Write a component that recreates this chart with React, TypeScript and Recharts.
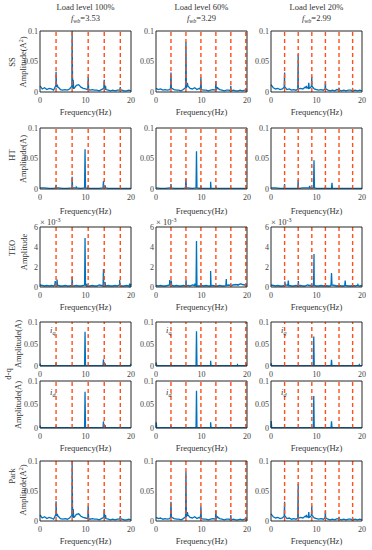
import React from "react";
import { LineChart, Line, XAxis, YAxis, ReferenceLine } from "recharts";

// 字体 / 颜色
const FONT = "'Liberation Serif', 'Times New Roman', serif";
const TXT = "#333333";
const AXIS = "#262626";
const BLUE = "#0072BD";
const ORANGE = "#FF4F1A";

// 每列的谐波位置 (k * fwb)
const harm100 = [3.53, 7.06, 10.59, 14.12, 17.65];
const harm60 = [3.29, 6.58, 9.87, 13.16, 16.45, 19.74];
const harm20 = [2.99, 5.98, 8.97, 11.96, 14.95, 17.94];

const titles = ["Load level 100%", "Load level 60%", "Load level 20%"];
const fwbValues = ["3.53", "3.29", "2.99"];

const xTicks = [0, 10, 20];
const ampTicks = [0, 0.05, 0.1];
const teoTicks = [0, 2, 4, 6];

// SS (also Park) — noise at 0.5 Hz steps, peaks [f, amplitude]
const ssNoise100 = [0.01, 0.005, 0.007, 0.004, 0.006, 0.005, 0.003, 0.01, 0.008, 0.004, 0.003, 0.004, 0.003, 0.005, 0.009, 0.006, 0.011, 0.012, 0.008, 0.006, 0.005, 0.004, 0.003, 0.004, 0.003, 0.003, 0.002, 0.004, 0.006, 0.004, 0.003, 0.002, 0.003, 0.002, 0.003, 0.003, 0.003, 0.002, 0.002, 0.003, 0.002];
const ssPeaks100 = [[3.53, 0.033], [3.8, 0.012], [7.06, 0.1], [7.3, 0.02], [10.59, 0.025], [14.12, 0.02], [14.4, 0.01], [17.65, 0.008]];
const ssNoise60 = [0.006, 0.004, 0.005, 0.003, 0.004, 0.003, 0.004, 0.006, 0.004, 0.003, 0.003, 0.002, 0.004, 0.007, 0.01, 0.006, 0.005, 0.007, 0.004, 0.006, 0.004, 0.003, 0.003, 0.002, 0.003, 0.004, 0.003, 0.006, 0.004, 0.003, 0.002, 0.003, 0.003, 0.002, 0.003, 0.002, 0.002, 0.003, 0.002, 0.003, 0.002];
const ssPeaks60 = [[3.29, 0.032], [6.58, 0.082], [6.9, 0.015], [9.87, 0.024], [13.16, 0.018], [13.5, 0.008], [16.45, 0.01], [19.74, 0.004]];
const ssNoise20 = [0.012, 0.007, 0.005, 0.006, 0.004, 0.005, 0.008, 0.004, 0.005, 0.003, 0.004, 0.003, 0.005, 0.006, 0.005, 0.008, 0.007, 0.006, 0.009, 0.005, 0.004, 0.003, 0.004, 0.003, 0.005, 0.003, 0.002, 0.003, 0.002, 0.004, 0.003, 0.002, 0.003, 0.002, 0.003, 0.003, 0.002, 0.003, 0.002, 0.003, 0.002];
const ssPeaks20 = [[2.99, 0.032], [5.98, 0.062], [7.8, 0.01], [8.3, 0.015], [8.97, 0.025], [11.96, 0.017], [14.95, 0.007], [17.94, 0.004]];

// HT — noise at 1 Hz steps
const htNoise100 = [0.002, 0.002, 0.001, 0.001, 0.002, 0.001, 0.001, 0.002, 0.002, 0.001, 0.002, 0.001, 0.001, 0.001, 0.002, 0.001, 0.001, 0.001, 0.001, 0.001, 0.001];
const htPeaks100 = [[3.53, 0.007], [7.06, 0.02], [8.0, 0.003], [9.9, 0.065], [10.59, 0.005], [13.95, 0.013], [14.3, 0.006]];
const htNoise60 = [0.002, 0.001, 0.001, 0.002, 0.001, 0.001, 0.001, 0.002, 0.001, 0.002, 0.001, 0.001, 0.001, 0.001, 0.001, 0.001, 0.001, 0.001, 0.001, 0.001, 0.001];
const htPeaks60 = [[3.29, 0.008], [6.58, 0.017], [8.9, 0.062], [9.87, 0.005], [12.0, 0.012], [13.16, 0.004], [16.45, 0.002]];
const htNoise20 = [0.002, 0.002, 0.001, 0.001, 0.001, 0.001, 0.001, 0.002, 0.002, 0.002, 0.001, 0.001, 0.001, 0.001, 0.001, 0.001, 0.001, 0.001, 0.001, 0.001, 0.001];
const htPeaks20 = [[2.99, 0.008], [5.98, 0.015], [8.5, 0.005], [9.45, 0.047], [11.96, 0.004], [13.4, 0.01]];

// TEO (x10^-3)
const teoNoise100 = [0.2, 0.15, 0.1, 0.15, 0.1, 0.15, 0.1, 0.2, 0.15, 0.1, 0.1, 0.15, 0.1, 0.1, 0.15, 0.1, 0.15, 0.1, 0.1, 0.15, 0.2, 0.1, 0.1, 0.15, 0.1, 0.1, 0.2, 0.15, 0.1, 0.1, 0.15, 0.1, 0.1, 0.15, 0.1, 0.2, 0.1, 0.1, 0.15, 0.1, 0.3];
const teoPeaks100 = [[3.35, 0.6], [3.75, 0.75], [7.06, 1.0], [9.9, 4.9], [10.3, 0.3], [13.95, 1.8], [14.3, 0.5], [17.5, 0.7], [19.7, 0.35]];
const teoNoise60 = [0.15, 0.1, 0.15, 0.1, 0.1, 0.15, 0.2, 0.15, 0.1, 0.15, 0.1, 0.1, 0.15, 0.1, 0.15, 0.1, 0.2, 0.15, 0.1, 0.1, 0.15, 0.1, 0.15, 0.1, 0.1, 0.15, 0.1, 0.1, 0.15, 0.1, 0.1, 0.15, 0.2, 0.15, 0.2, 0.25, 0.2, 0.3, 0.25, 0.2, 0.2];
const teoPeaks60 = [[3.0, 0.7], [3.35, 0.65], [6.6, 0.7], [8.55, 0.35], [8.9, 4.6], [9.87, 0.35], [12.0, 1.6], [15.45, 0.8], [18.0, 0.3], [18.6, 0.3]];
const teoNoise20 = [0.2, 0.15, 0.1, 0.15, 0.1, 0.1, 0.15, 0.2, 0.15, 0.1, 0.1, 0.15, 0.1, 0.15, 0.1, 0.1, 0.2, 0.15, 0.1, 0.15, 0.1, 0.1, 0.15, 0.1, 0.15, 0.1, 0.1, 0.2, 0.15, 0.1, 0.15, 0.1, 0.1, 0.15, 0.1, 0.1, 0.15, 0.1, 0.15, 0.1, 0.15];
const teoPeaks20 = [[3.05, 0.55], [3.8, 0.65], [6.0, 0.6], [8.9, 0.3], [9.45, 3.3], [13.3, 1.4], [16.3, 0.65], [19.1, 0.25]];

// d-q : iq / id
const dqNoise = [0.001, 0.001, 0.001, 0.001, 0.001, 0.001, 0.001, 0.001, 0.001, 0.001, 0.001, 0.001, 0.001, 0.001, 0.001, 0.001, 0.001, 0.001, 0.001, 0.001, 0.001];
const iqPeaks100 = [[0.05, 0.003], [3.53, 0.005], [9.9, 0.078], [13.95, 0.015], [14.3, 0.006], [19.9, 0.003]];
const iqPeaks60 = [[0.05, 0.008], [3.29, 0.006], [8.9, 0.079], [12.0, 0.012], [17.9, 0.003], [19.8, 0.003]];
const iqPeaks20 = [[0.05, 0.006], [9.4, 0.067], [13.3, 0.014], [19.4, 0.003]];
const idPeaks100 = [[0.05, 0.003], [3.53, 0.003], [9.9, 0.077], [13.95, 0.014], [14.3, 0.006], [17.65, 0.002]];
const idPeaks60 = [[0.05, 0.012], [3.29, 0.004], [8.9, 0.079], [12.0, 0.012]];
const idPeaks20 = [[0.05, 0.015], [2.99, 0.003], [9.4, 0.068], [13.3, 0.014]];

// 噪声底 + 尖峰 合成频谱点
function spectrum(noise: number[], peaks: number[][]) {
  const step = 20 / (noise.length - 1);
  const pts = noise.map((a, i) => ({ f: i * step, a }));
  peaks.forEach(([f, a]) => {
    const base = noise[Math.round(f / step)];
    pts.push({ f: Math.max(0, f - 0.1), a: base }, { f, a }, { f: Math.min(20, f + 0.1), a: base });
  });
  return pts.sort((p, q) => p.f - q.f);
}

const colLeft = [40, 156, 271];
const harms = [harm100, harm60, harm20];
const PW = 91;

type RowDef = {
  top: number;
  h: number;
  yMax: number;
  ticks: number[];
  data: { f: number; a: number }[][];
};

const rows: RowDef[] = [
  { top: 31, h: 61, yMax: 0.1, ticks: ampTicks, data: [spectrum(ssNoise100, ssPeaks100), spectrum(ssNoise60, ssPeaks60), spectrum(ssNoise20, ssPeaks20)] },
  { top: 128, h: 61, yMax: 0.1, ticks: ampTicks, data: [spectrum(htNoise100, htPeaks100), spectrum(htNoise60, htPeaks60), spectrum(htNoise20, htPeaks20)] },
  { top: 227, h: 60, yMax: 6, ticks: teoTicks, data: [spectrum(teoNoise100, teoPeaks100), spectrum(teoNoise60, teoPeaks60), spectrum(teoNoise20, teoPeaks20)] },
  { top: 322, h: 44, yMax: 0.1, ticks: ampTicks, data: [spectrum(dqNoise, iqPeaks100), spectrum(dqNoise, iqPeaks60), spectrum(dqNoise, iqPeaks20)] },
  { top: 381, h: 47, yMax: 0.1, ticks: ampTicks, data: [spectrum(dqNoise, idPeaks100), spectrum(dqNoise, idPeaks60), spectrum(dqNoise, idPeaks20)] },
  { top: 461, h: 60, yMax: 0.1, ticks: ampTicks, data: [spectrum(ssNoise100, ssPeaks100), spectrum(ssNoise60, ssPeaks60), spectrum(ssNoise20, ssPeaks20)] },
];

const tickStyle = { fontSize: 8, fill: "#444", fontFamily: FONT };

function Panel({ left, top, h, data, yMax, ticks, harm }: any) {
  const mT = 6, mR = 8, yW = 26, xH = 16;
  return (
    <div style={{ position: "absolute", left: left - yW, top: top - mT }}>
      <LineChart width={yW + PW + mR} height={mT + h + xH} data={data} margin={{ top: mT, right: mR, bottom: 0, left: 0 }}>
        <XAxis
          dataKey="f"
          type="number"
          domain={[0, 20]}
          ticks={xTicks}
          height={xH}
          tickSize={3}
          tickLine={false}
          axisLine={{ stroke: AXIS }}
          tick={tickStyle}
          interval={0}
        />
        <YAxis
          type="number"
          domain={[0, yMax]}
          ticks={ticks}
          width={yW}
          tickSize={0}
          tickMargin={2}
          tickLine={false}
          axisLine={{ stroke: AXIS }}
          tick={tickStyle}
          interval={0}
          tickFormatter={(v: number) => String(v)}
        />
        <Line type="linear" dataKey="a" stroke={BLUE} strokeWidth={1.3} dot={false} isAnimationActive={false} />
        {harm.map((x: number) => (
          <ReferenceLine key={x} x={x} stroke={ORANGE} strokeWidth={1.4} strokeDasharray="4 3" />
        ))}
        <ReferenceLine y={yMax} stroke={AXIS} />
        <ReferenceLine x={20} stroke={AXIS} />
      </LineChart>
    </div>
  );
}

function RotLabel({ x, y, children }: any) {
  return (
    <text x={x} y={y} transform={`rotate(-90 ${x} ${y})`} textAnchor="middle" fontSize={8.5} fill={TXT} fontFamily={FONT}>
      {children}
    </text>
  );
}

const A2 = (
  <>
    Amplitude(A<tspan dy={-3} fontSize={6}>2</tspan>
    <tspan dy={3}>)</tspan>
  </>
);

const freqRows = [115, 214, 310, 451, 544];

export default function App() {
  return (
    <div style={{ position: "absolute", left: 0, top: 0, width: 372, height: 550, background: "#fff" }}>
      {rows.map((r, ri) =>
        colLeft.map((l, ci) => (
          <Panel key={`${ri}-${ci}`} left={l} top={r.top} h={r.h} data={r.data[ci]} yMax={r.yMax} ticks={r.ticks} harm={harms[ci]} />
        ))
      )}
      <svg width={372} height={550} style={{ position: "absolute", left: 0, top: 0, pointerEvents: "none" }}>
        {colLeft.map((l, ci) => (
          <g key={ci} fontFamily={FONT} fontSize={8.5} fill={TXT} textAnchor="middle">
            <text x={l + PW / 2} y={10}>{titles[ci]}</text>
            <text x={l + PW / 2} y={21}>
              <tspan fontStyle="italic">f</tspan>
              <tspan fontStyle="italic" fontSize={6} dy={2}>wb</tspan>
              <tspan dy={-2}>={fwbValues[ci]}</tspan>
            </text>
            {freqRows.map((y) => (
              <text key={y} x={l + PW / 2} y={y}>Frequency(Hz)</text>
            ))}
            <text x={l} y={225} textAnchor="start">
              × 10<tspan dy={-3} fontSize={6}>-3</tspan>
            </text>
            <text x={l + 10} y={333} textAnchor="start" fontStyle="italic">
              i<tspan dy={2} fontSize={6}>q</tspan>
            </text>
            <text x={l + 10} y={395} textAnchor="start" fontStyle="italic">
              i<tspan dy={2} fontSize={6}>d</tspan>
            </text>
          </g>
        ))}
        <RotLabel x={15} y={62}>SS</RotLabel>
        <RotLabel x={26} y={62}>{A2}</RotLabel>
        <RotLabel x={15} y={155}>HT</RotLabel>
        <RotLabel x={26} y={159}>Amplitude(A)</RotLabel>
        <RotLabel x={15} y={248}>TEO</RotLabel>
        <RotLabel x={27} y={252}>Amplitude</RotLabel>
        <RotLabel x={11} y={374}>d-q</RotLabel>
        <RotLabel x={21} y={344}>Amplitude(A)</RotLabel>
        <RotLabel x={21} y={405}>Amplitude(A)</RotLabel>
        <RotLabel x={15} y={476}>Park</RotLabel>
        <RotLabel x={26} y={490}>{A2}</RotLabel>
      </svg>
    </div>
  );
}
